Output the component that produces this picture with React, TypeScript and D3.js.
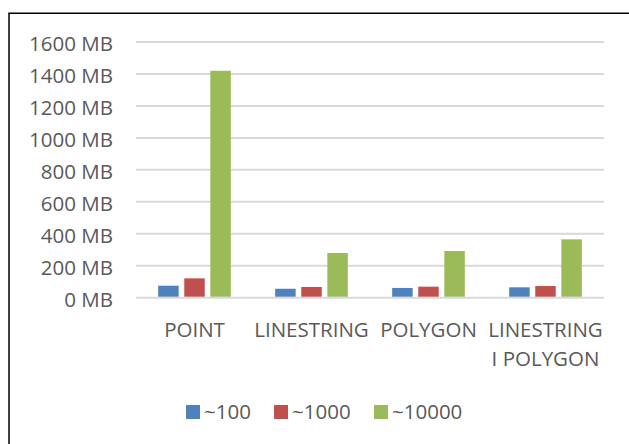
import React from 'react'
import { scaleBand, scaleLinear } from 'd3'

const categories = ['POINT', 'LINESTRING', 'POLYGON', 'LINESTRING I POLYGON']
const categoryLines = [['POINT'], ['LINESTRING'], ['POLYGON'], ['LINESTRING', 'I POLYGON']]
const seriesNames = ['~100', '~1000', '~10000']
const colors = ['#4F81BD', '#C0504D', '#9BBB59']

const values100 = [75, 56, 61, 65]
const values1000 = [121, 67, 69, 73]
const values10000 = [1420, 280, 292, 365]
const seriesValues = [values100, values1000, values10000]

const yTicks = [0, 200, 400, 600, 800, 1000, 1200, 1400, 1600]

const width = 629
const height = 444
const font = '"Open Sans", "Noto Sans", sans-serif'
const textColor = '#595959'
const fontSize = 20.5

function App() {
    const x0 = scaleBand().domain(categories).range([136, 604]).padding(0)
    const x1 = scaleBand()
        .domain(seriesNames)
        .range([0, x0.bandwidth()])
        .paddingInner(0.215)
        .paddingOuter(0.85)
    const y = scaleLinear().domain([0, 1600]).range([297.7, 42])

    const legendX = [186, 274, 374]

    return (
        <svg
            width={width}
            height={height}
            style={{ position: 'absolute', left: 0, top: 0, background: '#fff' }}
            fontFamily={font}
        >
            <rect x={0} y={0} width={width} height={height} fill="#fff" />
            {/* chart frame, runs off the right and bottom edges */}
            <path d={`M9,${height + 5}V13.3H${width + 5}`} fill="none" stroke="#000" strokeWidth={1.5} />

            {yTicks.map(t => (
                <g key={t}>
                    <line x1={136} x2={604} y1={y(t)} y2={y(t)} stroke="#D9D9D9" strokeWidth={2} />
                    <text
                        x={113}
                        y={y(t) + 9}
                        textAnchor="end"
                        fontSize={fontSize}
                        fill={textColor}
                    >
                        {t} MB
                    </text>
                </g>
            ))}

            {seriesValues.map((vals, si) =>
                vals.map((v, ci) => (
                    <rect
                        key={`${si}-${ci}`}
                        x={x0(categories[ci])! + x1(seriesNames[si])!}
                        y={y(v)}
                        width={x1.bandwidth()}
                        height={y(0) - y(v) - 1}
                        fill={colors[si]}
                    />
                ))
            )}

            {categoryLines.map((lines, ci) => (
                <text
                    key={ci}
                    x={x0(categories[ci])! + x0.bandwidth() / 2}
                    textAnchor="middle"
                    fontSize={fontSize}
                    fill={textColor}
                >
                    {lines.map((l, li) => (
                        <tspan key={li} x={x0(categories[ci])! + x0.bandwidth() / 2} y={336.5 + li * 29.5}>
                            {l}
                        </tspan>
                    ))}
                </text>
            ))}

            {seriesNames.map((s, i) => (
                <g key={s}>
                    <rect x={legendX[i]} y={405} width={14} height={14} fill={colors[i]} />
                    <text x={legendX[i] + 18} y={419} fontSize={fontSize} fill={textColor}>
                        {s}
                    </text>
                </g>
            ))}
        </svg>
    )
}

export default App
